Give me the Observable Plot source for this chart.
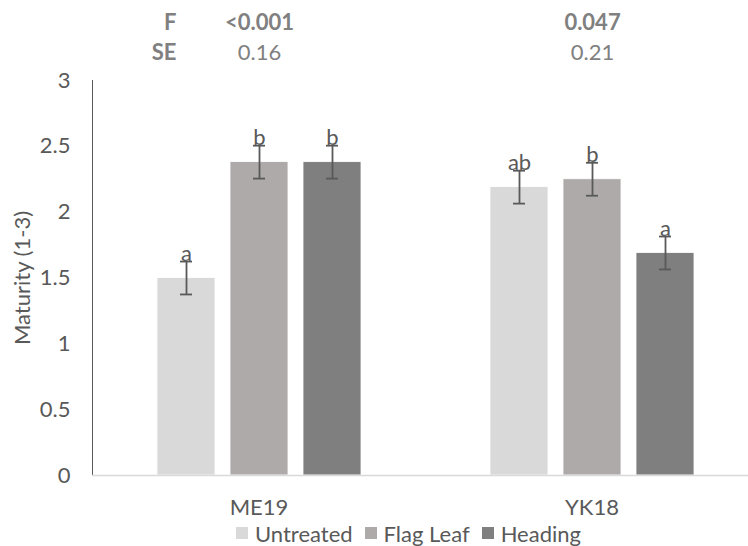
<!DOCTYPE html>
<html>
<head>
<meta charset="utf-8">
<script src="https://cdn.jsdelivr.net/npm/d3@7"></script>
<script src="https://cdn.jsdelivr.net/npm/@observablehq/plot@0.6"></script>
<style>
  html, body { margin: 0; padding: 0; background: #fff; overflow: hidden; }
  #chart { width: 748px; }
  .legend { display: flex; align-items: center; height: 26px; padding-left: 236px;
            font-family: Lato, sans-serif; font-size: 22px; color: #595959; }
  .legend span.sw { display: inline-block; width: 12px; height: 12px; margin-right: 7px; }
  .legend span.item { display: inline-flex; align-items: center; margin-right: 12px; }
</style>
</head>
<body>
<div id="chart"></div>
<script>
// Maturity score (1-3) by site and fungicide timing
const groups = ["ME19", "YK18"];
const treatments = ["Untreated", "Flag Leaf", "Heading"];
const colors = ["#d9d9d9", "#aeaaaa", "#7f7f7f"];

const me19Values = [1.5, 2.38, 2.38];
const yk18Values = [2.19, 2.25, 1.69];
const me19Errors = [0.125, 0.125, 0.125];
const yk18Errors = [0.125, 0.125, 0.125];
const me19Letters = ["a", "b", "b"];
const yk18Letters = ["ab", "b", "a"];

const fValues = ["<0.001", "0.047"];
const seValues = ["0.16", "0.21"];
const yTicks = [0, 0.5, 1, 1.5, 2, 2.5, 3];
const yTitle = "Maturity (1-3)";

const byGroup = {
  ME19: {values: me19Values, errors: me19Errors, letters: me19Letters},
  YK18: {values: yk18Values, errors: yk18Errors, letters: yk18Letters}
};

const rows = groups.flatMap((g, gi) =>
  treatments.map((t, ti) => ({
    group: g,
    treatment: t,
    value: byGroup[g].values[ti],
    err: byGroup[g].errors[ti],
    letter: byGroup[g].letters[ti],
    f: fValues[gi],
    se: seValues[gi]
  }))
);

const ink = "#595959";
const noteInk = "#808080";
const firstBar = d => d.group === "ME19" && d.treatment === "Untreated";

const chart = Plot.plot({
  width: 748,
  height: 520,
  marginLeft: 92,
  marginRight: 0,
  marginTop: 80,
  marginBottom: 45,
  style: {fontFamily: "Lato, sans-serif", fontSize: "22px", color: ink, background: "white", overflow: "hidden"},
  facet: {data: rows, x: "group"},
  fx: {domain: groups, range: [92, 758], padding: 0, label: null, tickSize: 0, tickPadding: 24},
  x: {domain: treatments, paddingInner: 0.211, paddingOuter: 0.87, axis: null},
  y: {
    domain: [0, 3],
    ticks: yTicks,
    tickFormat: d => String(d),
    tickSize: 0,
    tickPadding: 22,
    line: true,
    label: null
  },
  color: {domain: treatments, range: colors},
  marks: [
    Plot.barY(rows, {x: "treatment", y: "value", fill: "treatment", stroke: "white", strokeWidth: 0.8}),
    Plot.ruleY([0], {stroke: "#d9d9d9", strokeWidth: 1.3}),
    Plot.ruleX(rows, {x: "treatment", y1: d => d.value - d.err, y2: d => d.value + d.err, stroke: ink, strokeWidth: 1.8}),
    Plot.tickY(rows, {x: "treatment", y: d => d.value - d.err, stroke: ink, strokeWidth: 1.8, insetLeft: 23, insetRight: 23}),
    Plot.tickY(rows, {x: "treatment", y: d => d.value + d.err, stroke: ink, strokeWidth: 1.8, insetLeft: 23, insetRight: 23}),
    Plot.text(rows, {x: "treatment", y: d => d.value + d.err, text: "letter", fill: ink, lineAnchor: "bottom", dy: -1}),
    // vertical axis title
    Plot.text(rows, Plot.filter(firstBar, {text: () => yTitle, frameAnchor: "left", textAnchor: "middle", dx: -70, rotate: -90, fill: ink})),
    // significance and standard error rows above each site
    Plot.text(rows, Plot.filter(d => d.treatment === "Flag Leaf", {x: "treatment", text: "f", frameAnchor: "top", dy: -66, fill: noteInk, fontWeight: "bold"})),
    Plot.text(rows, Plot.filter(d => d.treatment === "Flag Leaf", {x: "treatment", text: "se", frameAnchor: "top", dy: -36, fill: noteInk})),
    Plot.text(rows, Plot.filter(firstBar, {x: "treatment", text: () => "F", frameAnchor: "top", dy: -66, dx: -10, textAnchor: "end", fill: noteInk, fontWeight: "bold"})),
    Plot.text(rows, Plot.filter(firstBar, {x: "treatment", text: () => "SE", frameAnchor: "top", dy: -36, dx: -10, textAnchor: "end", fill: noteInk, fontWeight: "bold"}))
  ]
});

// light grey vertical axis line
chart.querySelectorAll('[aria-label^="y-axis"] path, [aria-label^="y-axis"] line').forEach(el => {
  el.setAttribute("stroke", "#d9d9d9");
  el.style.stroke = "#d9d9d9";
  el.setAttribute("stroke-width", "1.3");
});

document.getElementById("chart").append(chart);

const legend = document.createElement("div");
legend.className = "legend";
treatments.forEach((t, i) => {
  const item = document.createElement("span");
  item.className = "item";
  const sw = document.createElement("span");
  sw.className = "sw";
  sw.style.background = colors[i];
  item.append(sw, document.createTextNode(t));
  legend.append(item);
});
document.getElementById("chart").append(legend);
</script>
</body>
</html>
